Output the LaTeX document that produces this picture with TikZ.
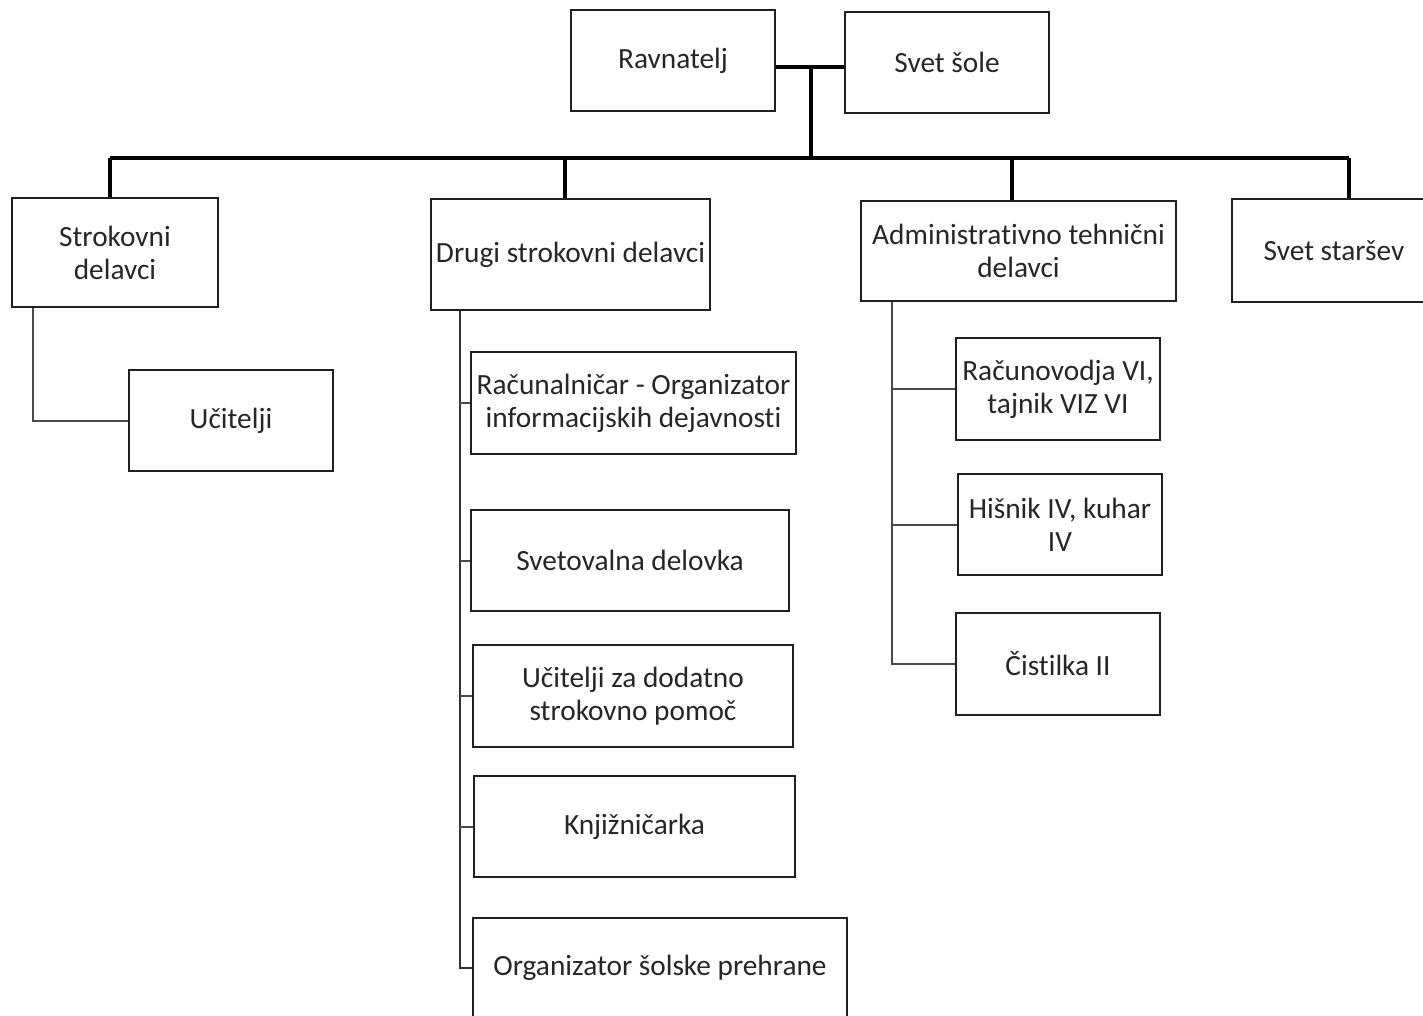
\documentclass[tikz,border=0pt]{standalone}
\usepackage{fontspec}
\setmainfont{Carlito}[Ligatures=NoCommon]
\definecolor{linegray}{HTML}{4A4A4A}
\definecolor{boxline}{HTML}{202020}
\tikzset{
  box/.style 2 args={draw=boxline, line width=1.4pt, inner sep=0pt, align=center,
    minimum width=#1*0.75pt, minimum height=#2*0.75pt,
    font=\fontsize{22}{24.75}\selectfont, text=black!85},
  mainline/.style={draw=black, line width=2.4pt},
  subline/.style={draw=linegray, line width=1.5pt},
  trunkline/.style={draw=black!80, line width=1.8pt}
}
\begin{document}
\begin{tikzpicture}[x=0.75pt,y=-0.75pt]
\useasboundingbox (0,0) rectangle (1423,1016);
\clip (0,0) rectangle (1423,1016);
% top
\node[box={204}{101}] (rav) at (673,60.5) {Ravnatelj};
\node[box={204}{101}] (svet) at (947,62.5) {Svet šole};
% level 2
\node[box={206}{109}] (str) at (115,252.5) {Strokovni\\delavci};
\node[box={279}{111}] (drugi) at (570.5,254.5) {Drugi strokovni delavci};
\node[box={315}{100}] (adm) at (1018.5,251) {Administrativno tehnični\\delavci};
\node[box={204}{103}] (star) at (1334,250.5) {Svet staršev};
% Strokovni
\node[box={204}{101}] (uc) at (231,420.5) {Učitelji};
% Drugi
\node[box={325}{102}] (racu) at (633.5,403) {Računalničar - Organizator\\informacijskih dejavnosti};
\node[box={318}{101}] (svdel) at (630,560.5) {Svetovalna delovka};
\node[box={320}{102}] (ucdod) at (633,696) {Učitelji za dodatno\\strokovno pomoč};
\node[box={321}{101}] (knj) at (634.5,826.5) {Knjižničarka};
\node[box={374}{100}] (org) at (660,968) {Organizator šolske prehrane};
% Admin
\node[box={204}{102}] (racv) at (1058,389) {Računovodja VI,\\tajnik VIZ VI};
\node[box={204}{101}] (his) at (1060,524.5) {Hišnik IV, kuhar\\IV};
\node[box={204}{102}] (cis) at (1058,664) {Čistilka II};
% coordinates
\coordinate (j1) at (811,67);
\coordinate (bus) at (811,158);
\coordinate (busL) at (110,158);
\coordinate (busR) at (1349,158);
\coordinate (busD) at (565,158);
\coordinate (busA) at (1012,158);
\coordinate (strx) at (33,0);
\coordinate (drx) at (460,0);
\coordinate (admx) at (892,0);
% connectors top
\draw[mainline] (rav.east |- j1) -- (svet.west |- j1);
\draw[mainline] (j1) -- (bus);
\draw[mainline] (busL) -- (busR);
\draw[mainline] (busL) -- (busL |- str.north);
\draw[mainline] (busD) -- (busD |- drugi.north);
\draw[mainline] (busA) -- (busA |- adm.north);
\draw[mainline] (busR) -- (busR |- star.north);
% Strokovni -> Ucitelji
\draw[subline] (str.south -| strx) |- (uc.west);
% Drugi tree
\draw[trunkline] (drugi.south -| drx) |- (org.west);
\draw[subline] (racu.west -| drx) -- (racu.west);
\draw[subline] (svdel.west -| drx) -- (svdel.west);
\draw[subline] (ucdod.west -| drx) -- (ucdod.west);
\draw[subline] (knj.west -| drx) -- (knj.west);
% Admin tree
\draw[subline] (adm.south -| admx) |- (cis.west);
\draw[subline] (racv.west -| admx) -- (racv.west);
\draw[subline] (his.west -| admx) -- (his.west);
\end{tikzpicture}
\end{document}
